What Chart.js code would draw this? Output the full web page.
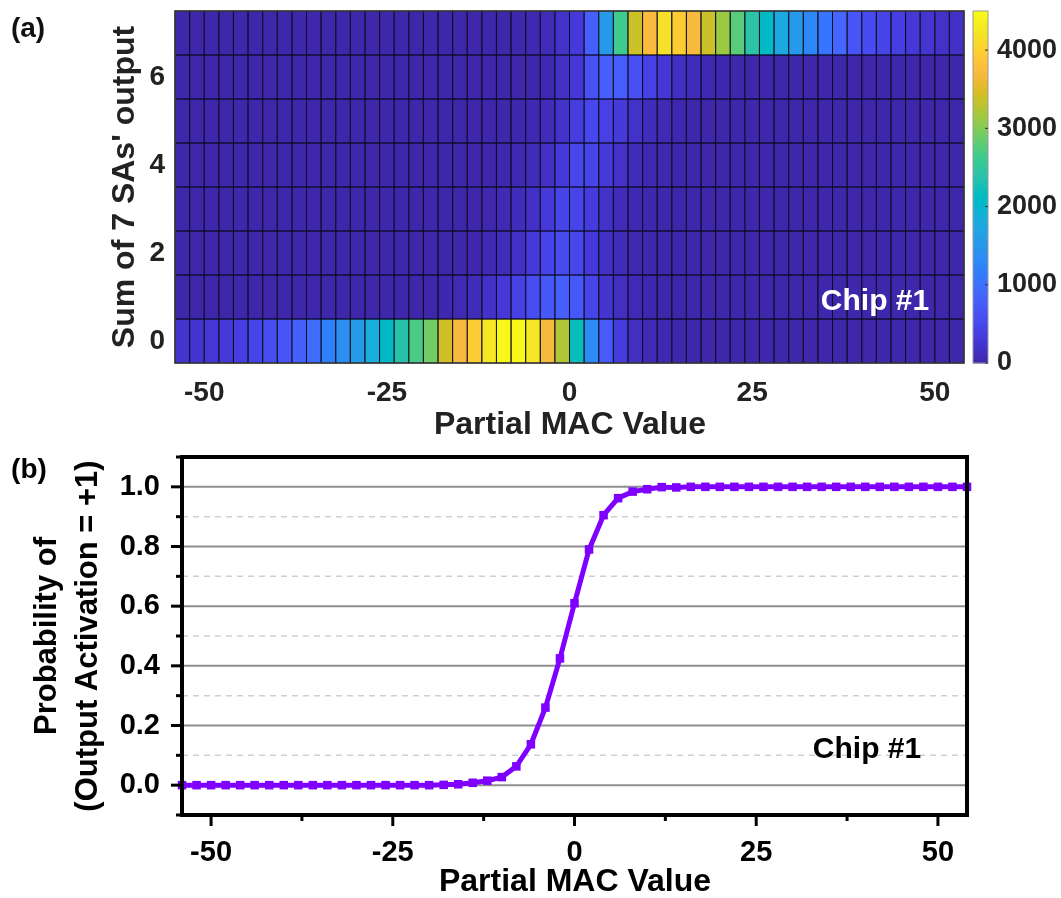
<!DOCTYPE html>
<html><head><meta charset="utf-8">
<script src="https://cdn.jsdelivr.net/npm/chart.js@4/dist/chart.umd.min.js"></script>
<style>
html,body{margin:0;padding:0;background:#fff;}
#wrap{position:relative;width:1061px;height:898px;}
canvas{position:absolute;left:0;top:0;}
</style></head><body>
<div id="wrap"><canvas id="heat" width="1061" height="898"></canvas><canvas id="prob" width="1061" height="898"></canvas></div>
<script>
// ---------------- DATA ----------------
// (a) heat map: bin centres of Partial MAC Value (bin width 2)
const macBinCenters = [-53,-51,-49,-47,-45,-43,-41,-39,-37,-35,-33,-31,-29,-27,-25,-23,-21,-19,-17,-15,-13,-11,-9,-7,-5,-3,-1,1,3,5,7,9,11,13,15,17,19,21,23,25,27,29,31,33,35,37,39,41,43,45,47,49,51,53];
const sumLevels = [0,1,2,3,4,5,6,7];
// counts per sum level, one value per MAC bin (left to right)
const countsSum0 = [250,260,280,320,380,460,570,680,820,960,1180,1390,1570,1860,2110,2390,2710,2930,3430,3710,3960,4250,4460,4450,4250,3710,3250,2210,1360,750,360,140,70,40,25,20,20,20,20,20,20,20,20,20,20,20,20,20,20,20,20,20,20,20];
const countsSum1 = [20,20,20,20,20,20,20,20,20,20,20,20,20,20,20,20,20,20,40,70,110,200,300,430,570,710,790,720,470,250,150,80,40,25,20,20,20,20,20,20,20,20,20,20,20,20,20,20,20,20,20,20,20,20];
const countsSum2 = [20,20,20,20,20,20,20,20,20,20,20,20,20,20,20,20,20,20,20,25,40,70,110,180,330,480,560,500,320,180,100,50,30,20,20,20,20,20,20,20,20,20,20,20,20,20,20,20,20,20,20,20,20,20];
const countsSum3 = [20,20,20,20,20,20,20,20,20,20,20,20,20,20,20,20,20,20,20,20,20,30,70,120,180,320,470,470,360,210,110,60,30,20,20,20,20,20,20,20,20,20,20,20,20,20,20,20,20,20,20,20,20,20];
const countsSum4 = [20,20,20,20,20,20,20,20,20,20,20,20,20,20,20,20,20,20,20,20,20,20,30,60,110,180,320,500,460,320,200,110,60,30,20,20,20,20,20,20,20,20,20,20,20,20,20,20,20,20,20,20,20,20];
const countsSum5 = [20,20,20,20,20,20,20,20,20,20,20,20,20,20,20,20,20,20,20,20,20,20,20,30,60,110,220,370,500,430,330,210,120,70,40,25,20,20,20,20,20,20,20,20,20,20,20,20,20,20,20,20,20,20];
const countsSum6 = [20,20,20,20,20,20,20,20,20,20,20,20,20,20,20,20,20,20,20,20,20,20,20,20,30,60,180,300,640,800,780,620,420,290,170,100,60,40,25,20,20,20,20,20,20,20,20,20,20,20,20,20,20,20];
const countsSum7 = [15,15,15,15,15,15,15,15,15,15,15,15,15,15,15,15,15,15,15,15,15,15,20,30,50,100,210,320,790,1570,2640,3390,3750,4180,3960,3710,3390,3140,2790,2430,2110,1790,1540,1290,1070,890,680,550,460,380,300,250,210,190];
const heatXTicks = [-50,-25,0,25,50];
const heatYTicks = [0,2,4,6];
const colorbarTicks = [0,1000,2000,3000,4000];
const colorbarMax = 4500;

// (b) probability curve
const probX = [-54,-52,-50,-48,-46,-44,-42,-40,-38,-36,-34,-32,-30,-28,-26,-24,-22,-20,-18,-16,-14,-12,-10,-8,-6,-4,-2,0,2,4,6,8,10,12,14,16,18,20,22,24,26,28,30,32,34,36,38,40,42,44,46,48,50,52,54];
const probY = [0,0,0,0,0,0,0,0,0,0,0,0,0,0,0,0,0,0,0.001,0.003,0.008,0.015,0.027,0.063,0.137,0.26,0.425,0.61,0.79,0.905,0.962,0.984,0.992,0.999,0.998,1,1,1,1,1,1,1,1,1,1,1,1,1,1,1,1,1,1,1,1];
const probXTicks = [-50,-25,0,25,50];
const probXMinorTicks = [-37.5,-12.5,12.5,37.5];
const probYTicks = [0,0.2,0.4,0.6,0.8,1.0];
const probYMinorTicks = [-0.1,0.1,0.3,0.5,0.7,0.9,1.1];

// ---------------- STYLE ----------------
const FONT = '"Liberation Sans", Arial, Helvetica, sans-serif';
const PARULA = [[62,38,168],[64,42,180],[66,46,192],[67,50,203],[69,55,213],[70,60,222],[71,65,229],[71,71,235],[72,77,240],[72,82,244],[71,88,248],[70,94,251],[69,99,253],[66,105,254],[62,111,255],[56,117,254],[50,124,252],[47,129,250],[46,135,247],[45,140,243],[43,145,239],[39,151,235],[37,155,232],[35,160,229],[32,165,227],[28,169,223],[24,173,219],[18,177,214],[8,181,208],[1,184,202],[2,186,195],[11,189,189],[25,191,182],[36,193,174],[44,196,167],[49,198,159],[55,200,151],[63,202,142],[74,203,132],[87,204,122],[100,205,111],[114,205,100],[129,204,89],[143,203,78],[157,201,67],[171,199,57],[185,196,49],[197,194,42],[209,191,39],[220,189,41],[230,187,45],[240,186,54],[248,186,61],[254,190,60],[254,195,56],[254,201,52],[252,207,48],[250,214,45],[247,220,42],[245,227,39],[245,233,36],[246,239,32],[247,245,27],[249,251,21]];
function parula(t){
  t = Math.max(0, Math.min(1, t));
  const f = t * (PARULA.length - 1), i = Math.floor(f), r = f - i;
  const a = PARULA[i], b = PARULA[Math.min(i + 1, PARULA.length - 1)];
  return 'rgb(' + [0,1,2].map(k => Math.round(a[k] + (b[k] - a[k]) * r)).join(',') + ')';
}
const noPad = s => { s.paddingTop = 0; s.paddingBottom = 0; };

// ---------------- (a) HEAT MAP ----------------
const allRows = [countsSum0,countsSum1,countsSum2,countsSum3,countsSum4,countsSum5,countsSum6,countsSum7];
const heatPoints = [];
sumLevels.forEach((lvl, r) => macBinCenters.forEach((c, i) => heatPoints.push({x: c, y: lvl, v: allRows[r][i]})));
const binHalf = (macBinCenters[1] - macBinCenters[0]) / 2;

const heatPlugin = {
  id: 'heatCells',
  beforeDatasetsDraw(chart) {
    const {ctx, chartArea: ca} = chart;
    const xs = chart.scales.x, ys = chart.scales.y, cb = chart.scales.cb;
    ctx.save();
    chart.data.datasets[0].data.forEach(p => {
      const x0 = xs.getPixelForValue(p.x - binHalf), x1 = xs.getPixelForValue(p.x + binHalf);
      const y0 = ys.getPixelForValue(p.y + 0.5), y1 = ys.getPixelForValue(p.y - 0.5);
      ctx.fillStyle = parula(p.v / colorbarMax);
      ctx.fillRect(x0, y0, x1 - x0, y1 - y0);
    });
    ctx.strokeStyle = 'rgba(10,10,30,0.8)';
    ctx.lineWidth = 1;
    chart.data.datasets[0].data.forEach(p => {
      const x0 = xs.getPixelForValue(p.x - binHalf), x1 = xs.getPixelForValue(p.x + binHalf);
      const y0 = ys.getPixelForValue(p.y + 0.5), y1 = ys.getPixelForValue(p.y - 0.5);
      ctx.strokeRect(x0, y0, x1 - x0, y1 - y0);
    });
    ctx.strokeStyle = '#3a3a3a';
    ctx.lineWidth = 1.5;
    ctx.strokeRect(ca.left, ca.top, ca.right - ca.left, ca.bottom - ca.top);
    // colour bar
    const bx0 = ca.right + 9, bx1 = ca.right + 24;
    const steps = 256;
    for (let k = 0; k < steps; k++) {
      const v0 = colorbarMax * k / steps, v1 = colorbarMax * (k + 1) / steps;
      const py0 = cb.getPixelForValue(v1), py1 = cb.getPixelForValue(v0);
      ctx.fillStyle = parula((v0 + v1) / 2 / colorbarMax);
      ctx.fillRect(bx0, Math.floor(py0), bx1 - bx0, Math.ceil(py1) - Math.floor(py0) + 0.5);
    }
    ctx.strokeStyle = '#9a9a9a';
    ctx.lineWidth = 1;
    ctx.strokeRect(bx0, cb.getPixelForValue(colorbarMax), bx1 - bx0, cb.getPixelForValue(0) - cb.getPixelForValue(colorbarMax));
    ctx.strokeStyle = '#333';
    colorbarTicks.forEach(v => {
      const py = cb.getPixelForValue(v);
      ctx.beginPath(); ctx.moveTo(bx1 - 3, py); ctx.lineTo(bx1, py); ctx.stroke();
    });
    ctx.restore();
  },
  afterDraw(chart) {
    const ctx = chart.ctx;
    ctx.save();
    ctx.textAlign = 'center'; ctx.textBaseline = 'middle';
    ctx.fillStyle = '#111';
    ctx.font = 'bold 28px ' + FONT;
    ctx.fillText('(a)', 28, 29);
    ctx.font = 'bold 32px ' + FONT;
    ctx.fillStyle = '#222';
    ctx.fillText('Partial MAC Value', 570, 425);
    ctx.save();
    ctx.translate(125, 187); ctx.rotate(-Math.PI / 2);
    ctx.fillText("Sum of 7 SAs' output", 0, 0);
    ctx.restore();
    ctx.fillStyle = '#fff';
    ctx.font = 'bold 30px ' + FONT;
    ctx.fillText('Chip #1', 875, 302);
    ctx.restore();
  }
};

const tickFont = size => ({family: FONT, size: size, weight: 'bold'});

new Chart(document.getElementById('heat'), {
  type: 'scatter',
  data: {datasets: [{data: heatPoints, pointRadius: 0, pointHoverRadius: 0, showLine: false}]},
  options: {
    responsive: false, animation: false, devicePixelRatio: 1,
    layout: {padding: {left: 0, top: 11, right: 0, bottom: 475}},
    plugins: {legend: {display: false}, tooltip: {enabled: false}},
    events: [],
    scales: {
      x: {type: 'linear', min: -54, max: 54,
          afterBuildTicks: s => { s.ticks = heatXTicks.map(v => ({value: v})); },
          afterFit: s => { s.height = 60; },
          grid: {display: false, drawTicks: false}, border: {display: false},
          ticks: {font: tickFont(28), color: '#222', padding: 13, maxRotation: 0, autoSkip: false}},
      y: {type: 'linear', min: -0.5, max: 7.5,
          afterBuildTicks: s => { s.ticks = heatYTicks.map(v => ({value: v})); },
          afterFit: s => { s.width = 175; noPad(s); },
          grid: {display: false, drawTicks: false}, border: {display: false},
          ticks: {font: tickFont(28), color: '#222', padding: 10, autoSkip: false}},
      cb: {type: 'linear', position: 'right', display: true, min: 0, max: colorbarMax,
          afterBuildTicks: s => { s.ticks = colorbarTicks.map(v => ({value: v})); },
          afterFit: s => { s.width = 97; noPad(s); },
          grid: {display: false, drawTicks: false}, border: {display: false},
          ticks: {font: tickFont(27), color: '#222', padding: 33, autoSkip: false,
                  callback: v => String(v)}}
    }
  },
  plugins: [heatPlugin]
});

// ---------------- (b) PROBABILITY CURVE ----------------
const probPlugin = {
  id: 'probDecor',
  beforeDatasetsDraw(chart) {
    const {ctx, chartArea: ca} = chart;
    const ys = chart.scales.y;
    ctx.save();
    ctx.lineWidth = 1.5; ctx.strokeStyle = '#cfcfcf'; ctx.setLineDash([6, 5]);
    probYMinorTicks.forEach(v => {
      const py = ys.getPixelForValue(v);
      if (py <= ca.top + 2 || py >= ca.bottom - 2) return;
      ctx.beginPath(); ctx.moveTo(ca.left, py); ctx.lineTo(ca.right, py); ctx.stroke();
    });
    ctx.setLineDash([]);
    ctx.lineWidth = 2; ctx.strokeStyle = '#8e8e8e';
    probYTicks.forEach(v => {
      const py = ys.getPixelForValue(v);
      ctx.beginPath(); ctx.moveTo(ca.left, py); ctx.lineTo(ca.right, py); ctx.stroke();
    });
    ctx.restore();
  },
  afterDatasetsDraw(chart) {
    const {ctx, chartArea: ca} = chart;
    const xs = chart.scales.x, ys = chart.scales.y;
    ctx.save();
    ctx.strokeStyle = '#000';
    ctx.lineWidth = 4;
    ctx.strokeRect(ca.left, ca.top, ca.right - ca.left, ca.bottom - ca.top);
    ctx.lineWidth = 3;
    probXTicks.forEach(v => { const px = xs.getPixelForValue(v); ctx.beginPath(); ctx.moveTo(px, ca.bottom); ctx.lineTo(px, ca.bottom + 11); ctx.stroke(); });
    probXMinorTicks.forEach(v => { const px = xs.getPixelForValue(v); ctx.beginPath(); ctx.moveTo(px, ca.bottom); ctx.lineTo(px, ca.bottom + 6); ctx.stroke(); });
    probYTicks.forEach(v => { const py = ys.getPixelForValue(v); ctx.beginPath(); ctx.moveTo(ca.left, py); ctx.lineTo(ca.left - 11, py); ctx.stroke(); });
    probYMinorTicks.forEach(v => { const py = ys.getPixelForValue(v); ctx.beginPath(); ctx.moveTo(ca.left, py); ctx.lineTo(ca.left - 6, py); ctx.stroke(); });
    ctx.restore();
  },
  afterDraw(chart) {
    const ctx = chart.ctx;
    ctx.save();
    ctx.textAlign = 'center'; ctx.textBaseline = 'middle'; ctx.fillStyle = '#000';
    ctx.font = 'bold 28px ' + FONT;
    ctx.fillText('(b)', 29, 470);
    ctx.font = 'bold 32px ' + FONT;
    ctx.fillText('Partial MAC Value', 575, 882);
    ctx.font = 'bold 31px ' + FONT;
    ctx.save();
    ctx.translate(47, 636); ctx.rotate(-Math.PI / 2);
    ctx.fillText('Probability of', 0, 0);
    ctx.restore();
    ctx.save();
    ctx.translate(88, 636); ctx.rotate(-Math.PI / 2);
    ctx.fillText('(Output Activation = +1)', 0, 0);
    ctx.restore();
    ctx.font = 'bold 30px ' + FONT;
    ctx.fillText('Chip #1', 867, 750);
    ctx.restore();
  }
};

new Chart(document.getElementById('prob'), {
  type: 'scatter',
  data: {datasets: [{
    data: probX.map((x, i) => ({x: x, y: probY[i]})),
    showLine: true, borderColor: '#7f00ff', backgroundColor: '#7f00ff',
    borderWidth: 5, pointStyle: 'rect', pointRadius: 2.5, pointHoverRadius: 2.5, tension: 0, clip: false
  }]},
  options: {
    responsive: false, animation: false, devicePixelRatio: 1,
    layout: {padding: {left: 0, top: 457, right: 94, bottom: 33}},
    plugins: {legend: {display: false}, tooltip: {enabled: false}},
    events: [],
    scales: {
      x: {type: 'linear', min: -54, max: 54,
          afterBuildTicks: s => { s.ticks = probXTicks.map(v => ({value: v})); },
          afterFit: s => { s.height = 50; },
          grid: {display: false, drawTicks: false}, border: {display: false},
          ticks: {font: tickFont(29), color: '#000', padding: 21, maxRotation: 0, autoSkip: false}},
      y: {type: 'linear', min: -0.1, max: 1.1,
          afterBuildTicks: s => { s.ticks = probYTicks.map(v => ({value: v})); },
          afterFit: s => { s.width = 182; noPad(s); },
          grid: {display: false, drawTicks: false}, border: {display: false},
          ticks: {font: tickFont(29), color: '#000', padding: 22, autoSkip: false,
                  callback: v => Number(v).toFixed(1)}}
    }
  },
  plugins: [probPlugin]
});
</script>
</body></html>
